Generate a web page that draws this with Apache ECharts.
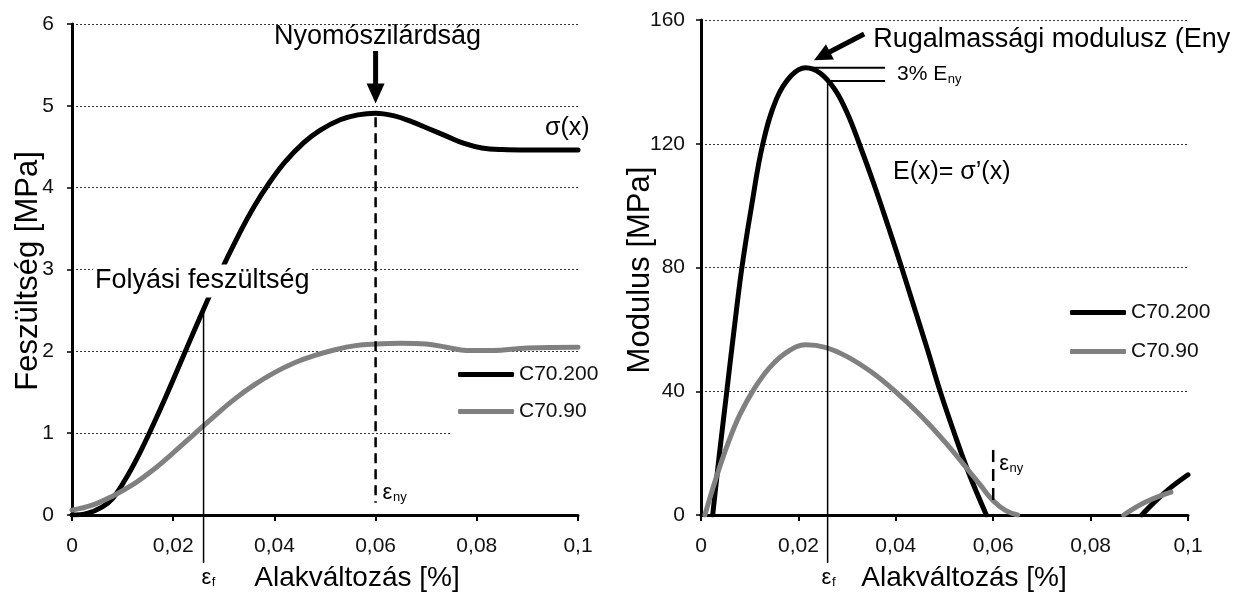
<!DOCTYPE html>
<html>
<head>
<meta charset="utf-8">
<script src="https://cdn.jsdelivr.net/npm/echarts@6/dist/echarts.min.js"></script>
<style>
  html, body { margin: 0; padding: 0; background: #fff; }
  #chart { width: 1236px; height: 592px; }
</style>
</head>
<body>
<div id="chart"></div>
<script>
// ---- data ----------------------------------------------------------------
const seriesNames = ['C70.200', 'C70.90'];

// stress–strain curves: strain [%], stress [MPa]
const stressStrainC200 = [0, 0.003, 0.006, 0.008, 0.0105, 0.013, 0.0158, 0.0183, 0.0215, 0.0247, 0.0288, 0.033, 0.036, 0.039, 0.0422, 0.0458, 0.049, 0.053, 0.0565, 0.060, 0.0635, 0.067, 0.0705, 0.074, 0.0775, 0.081, 0.085, 0.09, 0.1];
const stressC200       = [0, 0.02, 0.1, 0.2, 0.43, 0.71, 1.07, 1.41, 1.87, 2.33, 2.9, 3.43, 3.77, 4.06, 4.32, 4.55, 4.7, 4.83, 4.89, 4.91, 4.88, 4.81, 4.72, 4.63, 4.54, 4.485, 4.465, 4.46, 4.46];

const stressStrainC90 = [0, 0.004, 0.008, 0.012, 0.016, 0.02, 0.024, 0.028, 0.032, 0.036, 0.04, 0.044, 0.048, 0.052, 0.056, 0.06, 0.065, 0.07, 0.074, 0.078, 0.083, 0.09, 0.1];
const stressC90       = [0.06, 0.12, 0.23, 0.37, 0.55, 0.76, 0.98, 1.2, 1.41, 1.59, 1.74, 1.86, 1.95, 2.02, 2.07, 2.09, 2.10, 2.09, 2.05, 2.01, 2.01, 2.04, 2.05];

// tangent modulus curves: strain [%], modulus [MPa]; null = clipped to zero
const modStrainC200 = [0.0024, 0.0038, 0.0053, 0.0068, 0.0084, 0.0104, 0.0127, 0.0155, 0.0185, 0.0215, 0.0245, 0.0275, 0.030, 0.0325, 0.0355, 0.0385, 0.0412, 0.044, 0.0465, 0.0491, 0.052, 0.055, 0.0586, null, 0.0905, 0.093, 0.096, 0.1];
const modulusC200   = [0, 20, 40, 60, 80, 100, 120, 134.5, 142, 144.6, 142.8, 137.5, 130, 120, 107, 93, 80, 66, 53.5, 40, 26.5, 13.5, 0, null, 0, 4, 8.3, 13];

const modStrainC90 = [0.0008, 0.003, 0.0055, 0.008, 0.011, 0.014, 0.0175, 0.0215, 0.0255, 0.03, 0.035, 0.04, 0.045, 0.05, 0.054, 0.0573, 0.06, 0.0625, 0.065, null, 0.0868, 0.0913, 0.0965];
const modulusC90   = [0, 11.5, 23, 32.5, 41, 47.5, 52.5, 55, 54.2, 51.2, 46.2, 39.8, 32.3, 23.8, 16.2, 9.8, 4.6, 1.5, 0, null, 0, 4.2, 7.4];

// axis ticks
const xTickValues = [0, 0.02, 0.04, 0.06, 0.08, 0.1];
const xTickLabels = ['0', '0,02', '0,04', '0,06', '0,08', '0,1'];
const stressTicks = [0, 1, 2, 3, 4, 5, 6];
const modulusTicks = [0, 40, 80, 120, 160];

// characteristic strains
const epsYield = 0.026;   // ε_f
const epsPeak = 0.06;     // ε_ny

// ---- helpers -------------------------------------------------------------
const FONT = '"Liberation Sans", Arial, Helvetica, sans-serif';
const zip = (xs, ys) => xs.map((x, i) => (x === null || ys[i] === null) ? null : [x, ys[i]]);
function interp(xs, ys, x) {
  for (let i = 1; i < xs.length; i++) {
    if (xs[i] === null || xs[i - 1] === null) continue;
    if (x >= xs[i - 1] && x <= xs[i]) {
      const t = (x - xs[i - 1]) / (xs[i] - xs[i - 1]);
      return ys[i - 1] + t * (ys[i] - ys[i - 1]);
    }
  }
  return null;
}
const measureCtx = document.createElement('canvas').getContext('2d');
function textWidth(t, size) { measureCtx.font = size + 'px ' + FONT; return measureCtx.measureText(t).width; }

function xAxisCfg(gi) {
  return {
    type: 'value', gridIndex: gi, min: 0, max: 0.1, interval: 0.02,
    axisLine: { show: true, onZero: false, lineStyle: { color: '#000', width: 3 } },
    axisTick: { show: true, length: 6, lineStyle: { color: '#000', width: 2 } },
    axisLabel: {
      fontSize: 21, color: '#111', fontFamily: FONT, margin: 21,
      formatter: v => xTickLabels[xTickValues.findIndex(t => Math.abs(t - v) < 1e-9)]
    },
    splitLine: { show: false }
  };
}
function yAxisCfg(gi, ticks, margin) {
  return {
    type: 'value', gridIndex: gi, min: ticks[0], max: ticks[ticks.length - 1],
    interval: ticks[1] - ticks[0],
    axisLine: { show: true, onZero: false, lineStyle: { color: '#000', width: 3 } },
    axisTick: { show: true, length: 5, lineStyle: { color: '#000', width: 1.5 } },
    axisLabel: { fontSize: 21, color: '#111', fontFamily: FONT, margin: margin },
    splitLine: { show: true, lineStyle: { color: '#333', width: 1, type: [2, 2] } }
  };
}
function lineSeries(name, xi, data, color) {
  return {
    name: name, type: 'line', xAxisIndex: xi, yAxisIndex: xi, data: data,
    showSymbol: false, smooth: 0.4, connectNulls: false,
    lineStyle: { width: 5, color: color, cap: 'round', join: 'round' },
    itemStyle: { color: color }
  };
}
function legendCfg(left, top, gap, bg, padBottom) {
  return {
    data: seriesNames, orient: 'vertical', left: left, top: top,
    padding: [4, 10, padBottom, 6], itemGap: gap, backgroundColor: bg,
    icon: 'roundRect', itemWidth: 56, itemHeight: 5, selectedMode: false,
    textStyle: { fontSize: 21, color: '#111', fontFamily: FONT }
  };
}

const chart = echarts.init(document.getElementById('chart'), null, { renderer: 'canvas' });
chart.setOption({
  animation: false,
  backgroundColor: '#fff',
  textStyle: { fontFamily: FONT },
  grid: [
    { left: 72, top: 24, width: 506, height: 491 },
    { left: 701, top: 20, width: 487, height: 495 }
  ],
  xAxis: [xAxisCfg(0), xAxisCfg(1)],
  yAxis: [yAxisCfg(0, stressTicks, 18), yAxisCfg(1, modulusTicks, 16)],
  legend: [
    legendCfg(452, 360, 16, '#fff', 16),
    legendCfg(1064, 298, 18, 'transparent', 4)
  ],
  series: [
    lineSeries(seriesNames[0], 0, zip(stressStrainC200, stressC200), '#000'),
    lineSeries(seriesNames[1], 0, zip(stressStrainC90, stressC90), '#808080'),
    lineSeries(seriesNames[0], 1, zip(modStrainC200, modulusC200), '#000'),
    lineSeries(seriesNames[1], 1, zip(modStrainC90, modulusC90), '#808080')
  ]
});

// ---- annotations -----------------------------------------------------------
const pL = (x, y) => chart.convertToPixel({ gridIndex: 0 }, [x, y]);
const pR = (x, y) => chart.convertToPixel({ gridIndex: 1 }, [x, y]);

function text(x, y, t, size, extra) {
  return { type: 'text', x: x, y: y, z: 100,
    style: Object.assign({ text: t, fontSize: size, fontFamily: FONT, fill: '#000',
      align: 'left', verticalAlign: 'middle' }, extra || {}) };
}
function subText(x, y, main, sub, mainSize, subSize) {
  const w = textWidth(main, mainSize);
  return [text(x, y, main, mainSize), text(x + w + 0.5, y + mainSize * 0.22, sub, subSize)];
}
function seg(a, b, w, dash) {
  return { type: 'line', z: 100, shape: { x1: a[0], y1: a[1], x2: b[0], y2: b[1] },
    style: { stroke: '#000', lineWidth: w, lineDash: dash || null } };
}
function arrow(tail, tip, shaftW, headL, headW) {
  const dx = tip[0] - tail[0], dy = tip[1] - tail[1];
  const len = Math.hypot(dx, dy), ux = dx / len, uy = dy / len;
  const bx = tip[0] - ux * headL, by = tip[1] - uy * headL;
  const px = -uy, py = ux;
  return [
    seg(tail, [bx + ux * 2, by + uy * 2], shaftW),
    { type: 'polygon', z: 100, shape: { points: [
      [tip[0], tip[1]],
      [bx + px * headW / 2, by + py * headW / 2],
      [bx - px * headW / 2, by - py * headW / 2]] }, style: { fill: '#000' } }
  ];
}

const g = [];
// left panel: stress
const axisYL = pL(0, 0)[1];
const yieldStress = interp(stressStrainC200, stressC200, epsYield);
const peakStress = Math.max(...stressC200);
const yL = pL(epsYield, yieldStress);
g.push(seg(yL, [yL[0], axisYL + 48], 1.5));
g.push(...subText(yL[0] - 2, axisYL + 63, 'ε', 'f', 22, 13));
const nyTop = pL(epsPeak, peakStress - 0.05), nyBot = pL(epsPeak, 0.15);
g.push(seg(nyTop, nyBot, 2.5, [10, 6]));
g.push(...subText(nyTop[0] + 7, nyBot[1] - 10, 'ε', 'ny', 22, 13));
g.push(...arrow(pL(epsPeak, 5.67), pL(epsPeak, 5.03), 5, 20, 18));
g.push(text(pL(epsPeak, 0)[0] + 2, 37, 'Nyomószilárdság', 27, { align: 'center' }));
g.push(text(545, 128, 'σ(x)', 25));
g.push(text(93, 281, 'Folyási feszültség', 27, { backgroundColor: '#fff', padding: [3, 2, 3, 2] }));
g.push(text(357, 578, 'Alakváltozás [%]', 28, { align: 'center' }));
g.push({ type: 'text', x: 28, y: 271, rotation: Math.PI / 2, z: 100,
  style: { text: 'Feszültség [MPa]', fontSize: 31, fontFamily: FONT, fill: '#000', align: 'center', verticalAlign: 'middle' } });

// right panel: modulus
const axisYR = pR(0, 0)[1];
let pi = 0;
modulusC200.forEach((v, i) => { if (v !== null && v > modulusC200[pi]) pi = i; });
const peakMod = modulusC200[pi];
const dropMod = peakMod * 0.97;
const tickEnd = 0.0378;
g.push(seg(pR(modStrainC200[pi], peakMod), pR(tickEnd, peakMod), 2));
g.push(seg(pR(epsYield, dropMod), pR(tickEnd, dropMod), 2));
const yR = pR(epsYield, dropMod);
g.push(seg(yR, [yR[0], axisYR + 48], 1.5));
g.push(...subText(yR[0] - 6, axisYR + 63, 'ε', 'f', 22, 13));
const mid = (pR(0, peakMod)[1] + pR(0, dropMod)[1]) / 2;
g.push(...subText(pR(tickEnd, 0)[0] + 12, mid, '3% E', 'ny', 21, 13));
g.push(...arrow(pR(0.0335, 155.5), pR(0.0232, 147), 5, 18, 17));
g.push(text(pR(0.0335, 0)[0] + 9, 40, 'Rugalmassági modulusz (Eny', 27));
g.push(text(893, 172, 'E(x)= σ’(x)', 25));
const dTop = pR(epsPeak, 21), dBot = pR(epsPeak, 3);
g.push(seg(dTop, dBot, 2.5, [12, 7]));
g.push(...subText(dTop[0] + 6, dTop[1] + 14, 'ε', 'ny', 22, 13));
g.push(text(964, 578, 'Alakváltozás [%]', 28, { align: 'center' }));
g.push({ type: 'text', x: 640, y: 270, rotation: Math.PI / 2, z: 100,
  style: { text: 'Modulus [MPa]', fontSize: 31, fontFamily: FONT, fill: '#000', align: 'center', verticalAlign: 'middle' } });

chart.setOption({ graphic: g });
</script>
</body>
</html>
